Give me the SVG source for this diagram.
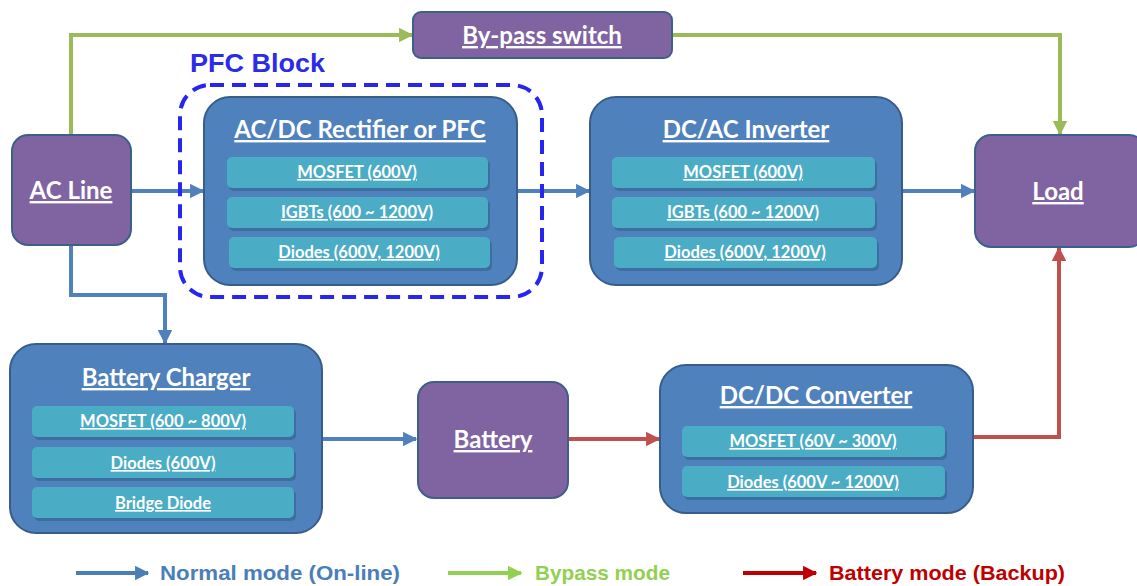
<svg xmlns="http://www.w3.org/2000/svg" width="1137" height="586" viewBox="0 0 1137 586">
<defs>
<style>
.blk{fill:#4F81BD;stroke:#385D8A;stroke-width:2}
.pur{fill:#8064A2;stroke:#3E5F8A;stroke-width:2}
.sub{fill:#4BACC6}
.sh{fill:#2E5F86;opacity:0.55}
.t{font-family:Lato,"Liberation Sans",sans-serif;font-weight:bold;fill:#FFFFFF;text-anchor:middle;text-decoration:underline}
.tt{font-size:24px}
.ts{font-size:16.5px}
.lg{font-family:"Liberation Sans",Arial,sans-serif;font-weight:bold;font-size:20px}
.cb{fill:none;stroke:#4F81BD;stroke-width:4}
.cg{fill:none;stroke:#9BBB59;stroke-width:4}
.cr{fill:none;stroke:#C0504D;stroke-width:4}
</style>
<marker id="ab" viewBox="0 0 10 10" refX="9" refY="5" markerWidth="3.6" markerHeight="3.6" orient="auto" markerUnits="strokeWidth"><path d="M0,0 L10,5 L0,10 z" fill="#4F81BD"/></marker>
<marker id="ag" viewBox="0 0 10 10" refX="9" refY="5" markerWidth="3.6" markerHeight="3.6" orient="auto" markerUnits="strokeWidth"><path d="M0,0 L10,5 L0,10 z" fill="#9BBB59"/></marker>
<marker id="ar" viewBox="0 0 10 10" refX="9" refY="5" markerWidth="3.6" markerHeight="3.6" orient="auto" markerUnits="strokeWidth"><path d="M0,0 L10,5 L0,10 z" fill="#C0504D"/></marker>
<marker id="lb" viewBox="0 0 10 10" refX="9" refY="5" markerWidth="3.6" markerHeight="3.6" orient="auto" markerUnits="strokeWidth"><path d="M0,0 L10,5 L0,10 z" fill="#4A7EBB"/></marker>
<marker id="lgm" viewBox="0 0 10 10" refX="9" refY="5" markerWidth="3.6" markerHeight="3.6" orient="auto" markerUnits="strokeWidth"><path d="M0,0 L10,5 L0,10 z" fill="#92D050"/></marker>
<marker id="lr" viewBox="0 0 10 10" refX="9" refY="5" markerWidth="3.6" markerHeight="3.6" orient="auto" markerUnits="strokeWidth"><path d="M0,0 L10,5 L0,10 z" fill="#C00000"/></marker>
</defs>
<rect width="1137" height="586" fill="#FFFFFF"/>

<g id="connectors">
<path class="cg" d="M71,135 V35 H412" marker-end="url(#ag)"/>
<path class="cg" d="M672,35 H1060 V134" marker-end="url(#ag)"/>
<path class="cb" d="M131,191 H203" marker-end="url(#ab)"/>
<path class="cb" d="M517,191 H589" marker-end="url(#ab)"/>
<path class="cb" d="M902,191 H974" marker-end="url(#ab)"/>
<path class="cb" d="M71,245 V295 H165 V343" marker-end="url(#ab)"/>
<path class="cb" d="M322,439 H416" marker-end="url(#ab)"/>
<path class="cr" d="M568,439 H659" marker-end="url(#ar)"/>
<path class="cr" d="M973,437 H1059 V248" marker-end="url(#ar)"/>
</g>

<g id="pfc-block">
<text x="190" y="72" font-family="Liberation Sans,Arial,sans-serif" font-weight="bold" font-size="25" fill="#2B2BE8" textLength="135" lengthAdjust="spacingAndGlyphs">PFC Block</text>
<rect x="180" y="85" width="362" height="212" rx="30" fill="none" stroke="#2626F0" stroke-width="4" stroke-dasharray="14,8"/>
</g>

<g id="by-pass-switch">
<rect class="pur" x="413" y="12" width="259" height="46" rx="8"/>
<text class="t tt" x="542" y="44">By-pass switch</text>
</g>

<g id="ac-line">
<rect class="pur" x="12" y="135" width="119" height="110" rx="16"/>
<text class="t tt" x="71" y="199">AC Line</text>
</g>

<g id="rectifier">
<rect class="blk" x="204" y="97" width="313" height="188" rx="26"/>
<text class="t tt" x="360" y="138">AC/DC Rectifier or PFC</text>
<rect class="sh" x="229" y="160" width="261" height="31" rx="5"/>
<rect class="sub" x="227" y="157" width="261" height="31" rx="5"/>
<text class="t ts" x="357" y="178">MOSFET (600V)</text>
<rect class="sh" x="229" y="200" width="261" height="31" rx="5"/>
<rect class="sub" x="227" y="197" width="261" height="31" rx="5"/>
<text class="t ts" x="357" y="218">IGBTs (600 ~ 1200V)</text>
<rect class="sh" x="231" y="240" width="261" height="31" rx="5"/>
<rect class="sub" x="229" y="237" width="261" height="31" rx="5"/>
<text class="t ts" x="359" y="258">Diodes (600V, 1200V)</text>
</g>

<g id="inverter">
<rect class="blk" x="590" y="97" width="312" height="188" rx="26"/>
<text class="t tt" x="746" y="138">DC/AC Inverter</text>
<rect class="sh" x="614" y="160" width="263" height="31" rx="5"/>
<rect class="sub" x="612" y="157" width="263" height="31" rx="5"/>
<text class="t ts" x="743" y="178">MOSFET (600V)</text>
<rect class="sh" x="614" y="200" width="263" height="31" rx="5"/>
<rect class="sub" x="612" y="197" width="263" height="31" rx="5"/>
<text class="t ts" x="743" y="218">IGBTs (600 ~ 1200V)</text>
<rect class="sh" x="616" y="240" width="263" height="31" rx="5"/>
<rect class="sub" x="614" y="237" width="263" height="31" rx="5"/>
<text class="t ts" x="745" y="258">Diodes (600V, 1200V)</text>
</g>

<g id="load">
<rect class="pur" x="975" y="135" width="170" height="112" rx="16"/>
<text class="t tt" x="1058" y="200">Load</text>
</g>

<g id="battery-charger">
<rect class="blk" x="10" y="344" width="312" height="189" rx="26"/>
<text class="t tt" x="166" y="386">Battery Charger</text>
<rect class="sh" x="34" y="409" width="262" height="31" rx="5"/>
<rect class="sub" x="32" y="406" width="262" height="31" rx="5"/>
<text class="t ts" x="163" y="427">MOSFET (600 ~ 800V)</text>
<rect class="sh" x="34" y="450" width="262" height="31" rx="5"/>
<rect class="sub" x="32" y="447" width="262" height="31" rx="5"/>
<text class="t ts" x="163" y="469">Diodes (600V)</text>
<rect class="sh" x="34" y="490" width="262" height="31" rx="5"/>
<rect class="sub" x="32" y="487" width="262" height="31" rx="5"/>
<text class="t ts" x="163" y="509">Bridge Diode</text>
</g>

<g id="battery">
<rect class="pur" x="418" y="382" width="150" height="116" rx="16"/>
<text class="t tt" x="493" y="448">Battery</text>
</g>

<g id="dcdc-converter">
<rect class="blk" x="660" y="365" width="313" height="148" rx="26"/>
<text class="t tt" x="816" y="404">DC/DC Converter</text>
<rect class="sh" x="684" y="429" width="263" height="31" rx="5"/>
<rect class="sub" x="682" y="426" width="263" height="31" rx="5"/>
<text class="t ts" x="813" y="447">MOSFET (60V ~ 300V)</text>
<rect class="sh" x="684" y="469" width="263" height="31" rx="5"/>
<rect class="sub" x="682" y="466" width="263" height="31" rx="5"/>
<text class="t ts" x="813" y="488">Diodes (600V ~ 1200V)</text>
</g>

<g id="legend">
<path d="M76,573 H148" fill="none" stroke="#4A7EBB" stroke-width="4" marker-end="url(#lb)"/>
<text class="lg" x="160" y="580" fill="#4A7EBB" textLength="240" lengthAdjust="spacingAndGlyphs">Normal mode (On-line)</text>
<path d="M448,573 H521" fill="none" stroke="#92D050" stroke-width="4" marker-end="url(#lgm)"/>
<text class="lg" x="535" y="580" fill="#92D050" textLength="135" lengthAdjust="spacingAndGlyphs">Bypass mode</text>
<path d="M743,573 H816" fill="none" stroke="#C00000" stroke-width="4" marker-end="url(#lr)"/>
<text class="lg" x="829" y="580" fill="#C00000" textLength="236" lengthAdjust="spacingAndGlyphs">Battery mode (Backup)</text>
</g>
</svg>
